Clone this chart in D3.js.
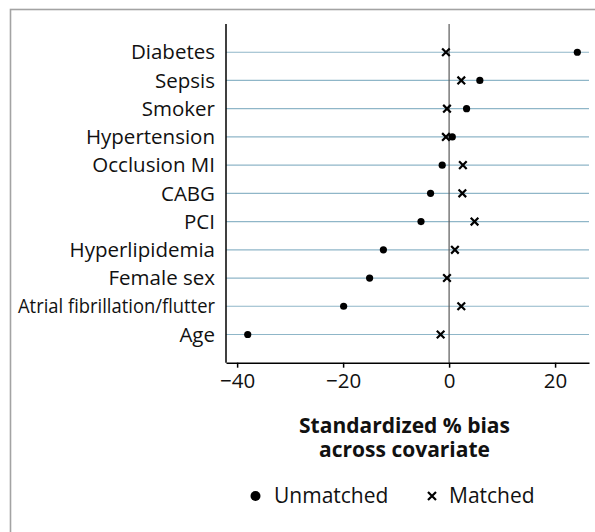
<!DOCTYPE html>
<html>
<head>
<meta charset="utf-8">
<script src="https://cdn.jsdelivr.net/npm/d3@7"></script>
<style>
    body { margin: 0; background: #fff; }
    svg text { font-family: "Open Sans", "Liberation Sans", Arial, sans-serif; fill: #111; }
    .rowLine { stroke: #8fb6c8; stroke-width: 1.2; }
    .zeroLine { stroke: #5a5a5a; stroke-width: 1.2; }
    .axisLine { stroke: #000; stroke-width: 1.5; }
    .frame { fill: none; stroke: #a3a3a3; stroke-width: 1.6; }
</style>
</head>
<body>
<div id="bias-chart"></div>
<script>

// covariates, top to bottom
var covariates = ["Diabetes", "Sepsis", "Smoker", "Hypertension", "Occlusion MI", "CABG",
    "PCI", "Hyperlipidemia", "Female sex", "Atrial fibrillation/flutter", "Age"];

// standardized % bias per covariate
var unmatched = [24.2, 5.8, 3.3, 0.6, -1.3, -3.5, -5.3, -12.4, -15.0, -19.9, -38.0];
var matched   = [-0.6, 2.3, -0.4, -0.6, 2.6, 2.5, 4.8, 1.1, -0.4, 2.3, -1.6];

var xTicks = [-40, -20, 0, 20];
var xDomain = [-42.1, 26.4];

var titleLines = ["Standardized % bias", "across covariate"];
var legendLabels = ["Unmatched", "Matched"];

/**
 * Constructor for the bias dot chart
 */
function BiasChart(){
    var self = this;
    self.init();
};

/**
 * Sets up the svg and the scales
 */
BiasChart.prototype.init = function(){
    var self = this;
    self.width = 595;
    self.height = 532;
    self.plot = {left: 226, right: 589, top: 24, bottom: 362.7};

    self.svg = d3.select("#bias-chart").append("svg")
        .attr("width", self.width)
        .attr("height", self.height);

    self.xScale = d3.scaleLinear()
        .domain(xDomain)
        .range([self.plot.left, self.plot.right]);

    self.yScale = d3.scalePoint()
        .domain(covariates)
        .range([self.plot.top, self.plot.bottom])
        .padding(1);
};

/**
 * draws a cross marker centred on 0,0
 */
BiasChart.prototype.cross = function(sel, r){
    sel.append("path")
        .attr("d", "M" + (-r) + "," + (-r) + "L" + r + "," + r + "M" + (-r) + "," + r + "L" + r + "," + (-r))
        .attr("stroke", "#000")
        .attr("stroke-width", 2.2)
        .attr("fill", "none");
};

BiasChart.prototype.update = function(){
    var self = this;
    var x = self.xScale, y = self.yScale, p = self.plot;

    var rows = covariates.map(function(c, i){
        return {name: c, unmatched: unmatched[i], matched: matched[i]};
    });

    // outer frame (only top and left edges fall inside the picture)
    self.svg.append("rect")
        .attr("class", "frame")
        .attr("x", 10.5)
        .attr("y", 9.5)
        .attr("width", 700)
        .attr("height", 700);

    // row lines
    self.svg.selectAll(".rowLine").data(rows).enter()
        .append("line")
        .attr("class", "rowLine")
        .attr("x1", p.left)
        .attr("x2", p.right)
        .attr("y1", function(d){ return y(d.name); })
        .attr("y2", function(d){ return y(d.name); });

    // row labels
    var labels = self.svg.selectAll(".rowLabel").data(rows).enter()
        .append("text")
        .attr("class", "rowLabel")
        .attr("x", p.left - 11)
        .attr("y", function(d){ return y(d.name); })
        .attr("dy", "0.35em")
        .attr("text-anchor", "end")
        .style("font-size", "20.5px")
        .text(function(d){ return d.name; });

    // squeeze labels that would run past the frame
    labels.each(function(){
        var w = this.getComputedTextLength();
        var room = p.left - 11 - 18;
        if (w > room){
            d3.select(this).attr("textLength", room).attr("lengthAdjust", "spacingAndGlyphs");
        }
    });

    // zero reference line
    self.svg.append("line")
        .attr("class", "zeroLine")
        .attr("x1", x(0)).attr("x2", x(0))
        .attr("y1", p.top).attr("y2", p.bottom);

    // x axis
    var xAxis = d3.axisBottom(x)
        .tickValues(xTicks)
        .tickSize(5)
        .tickPadding(6)
        .tickSizeOuter(0);

    var gx = self.svg.append("g")
        .attr("transform", "translate(0," + p.bottom + ")")
        .call(xAxis);
    gx.select(".domain").attr("stroke", "#000").attr("stroke-width", 1.5);
    gx.selectAll(".tick line").attr("stroke", "#000").attr("stroke-width", 1.5);
    gx.selectAll(".tick text")
        .attr("fill", "#111")
        .style("font-size", "20.5px")
        .style("font-family", "'Open Sans', 'Liberation Sans', Arial, sans-serif");

    // y axis line
    self.svg.append("line")
        .attr("class", "axisLine")
        .attr("x1", p.left).attr("x2", p.left)
        .attr("y1", p.top).attr("y2", p.bottom);

    // matched crosses
    self.svg.selectAll(".matched").data(rows).enter()
        .append("g")
        .attr("class", "matched")
        .attr("transform", function(d){ return "translate(" + x(d.matched) + "," + y(d.name) + ")"; })
        .each(function(){ self.cross(d3.select(this), 3.8); });

    // unmatched dots
    self.svg.selectAll(".unmatched").data(rows).enter()
        .append("circle")
        .attr("class", "unmatched")
        .attr("cx", function(d){ return x(d.unmatched); })
        .attr("cy", function(d){ return y(d.name); })
        .attr("r", 3.6)
        .attr("fill", "#000");

    // axis title
    var cx = (p.left + p.right) / 2 - 3;
    self.svg.selectAll(".axisTitle").data(titleLines).enter()
        .append("text")
        .attr("class", "axisTitle")
        .attr("x", cx)
        .attr("y", function(d, i){ return 432.5 + i * 24.6; })
        .attr("text-anchor", "middle")
        .style("font-size", "21px")
        .style("font-weight", "bold")
        .text(function(d){ return d; });

    // legend
    var legend = self.svg.append("g").attr("transform", "translate(0,496)");
    legend.append("circle")
        .attr("cx", 255.5).attr("cy", 0).attr("r", 5)
        .attr("fill", "#000");
    legend.append("text")
        .attr("x", 274).attr("y", 0).attr("dy", "0.35em")
        .style("font-size", "21px")
        .text(legendLabels[0]);
    var lc = legend.append("g").attr("transform", "translate(432,0)");
    self.cross(lc, 4);
    legend.append("text")
        .attr("x", 449).attr("y", 0).attr("dy", "0.35em")
        .style("font-size", "21px")
        .text(legendLabels[1]);
};

var chart = new BiasChart();
chart.update();

</script>
</body>
</html>
